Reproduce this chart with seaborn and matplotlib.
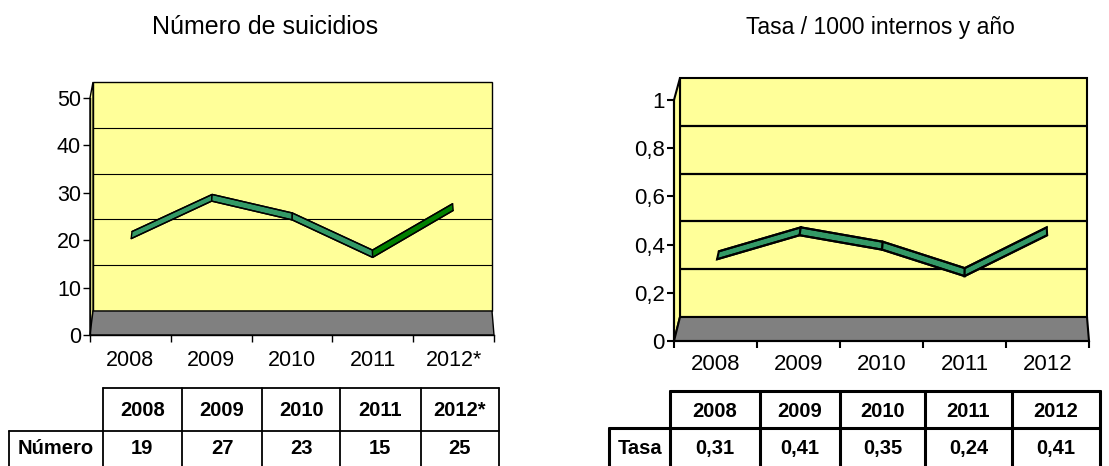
import matplotlib
matplotlib.use("Agg")
import matplotlib.pyplot as plt
from matplotlib.patches import Polygon
import seaborn as sns

# ---------------- data ----------------
years_left = ["2008", "2009", "2010", "2011", "2012*"]
numero = [19, 27, 23, 15, 25]
years_right = ["2008", "2009", "2010", "2011", "2012"]
tasa = [0.31, 0.41, 0.35, 0.24, 0.41]
tasa_labels = ["0,31", "0,41", "0,35", "0,24", "0,41"]
left_yticks = [0, 10, 20, 30, 40, 50]
left_yticklabels = ["0", "10", "20", "30", "40", "50"]
right_yticks = [0, 0.2, 0.4, 0.6, 0.8, 1.0]
right_yticklabels = ["0", "0,2", "0,4", "0,6", "0,8", "1"]
title_left = "Número de suicidios"
title_right = "Tasa / 1000 internos y año"
row_label_left = "Número"
row_label_right = "Tasa"

sns.set_theme(style="white")
plt.rcParams["font.family"] = ["Liberation Sans", "DejaVu Sans"]

W, H = 1109, 466
fig = plt.figure(figsize=(W / 100, H / 100), dpi=100)

YELLOW = "#FFFF99"
GRAY = "#808080"
GREEN = "#339966"
DKGREEN = "#008000"


def draw_chart(F, B, vmax, values, seg_colors, yticks, yticklabels, xlabels,
               lw_edge, lw_grid, depth=(0.30, 0.64), xpad=13, fs=15.5):
    fx0, fxs, fy0, fys = F
    bx0, bxs, by0, bys = B
    ax = fig.add_axes([fx0 / W, 1 - fy0 / H, 5 * fxs / W, vmax * fys / H])
    ax.set_xlim(0, 5)
    ax.set_ylim(0, vmax)
    ax.patch.set_visible(False)

    def proj(x, v, t):
        px = (1 - t) * (fx0 + fxs * x) + t * (bx0 + bxs * x)
        py = (1 - t) * (fy0 - fys * v) + t * (by0 - bys * v)
        return ((px - fx0) / fxs, (fy0 - py) / fys)

    kw = dict(edgecolor="black", linewidth=lw_edge, clip_on=False, joinstyle="miter")
    back = [proj(0, 0, 1), proj(5, 0, 1), proj(5, vmax, 1), proj(0, vmax, 1)]
    ax.add_patch(Polygon(back, closed=True, facecolor=YELLOW, zorder=1, **kw))
    side = [proj(0, 0, 0), proj(0, vmax, 0), proj(0, vmax, 1), proj(0, 0, 1)]
    ax.add_patch(Polygon(side, closed=True, facecolor=YELLOW, zorder=1, **kw))
    floor = [proj(0, 0, 0), proj(5, 0, 0), proj(5, 0, 1), proj(0, 0, 1)]
    ax.add_patch(Polygon(floor, closed=True, facecolor=GRAY, zorder=1.5, **kw))
    for v in yticks[1:-1]:
        p0, p1 = proj(0, v, 1), proj(5, v, 1)
        ax.plot([p0[0], p1[0]], [p0[1], p1[1]], color="black", lw=lw_grid,
                zorder=2, clip_on=False, solid_capstyle="butt")

    a, b = depth
    xs = [i + 0.5 for i in range(len(values))]
    for i in range(len(values) - 1):
        poly = [proj(xs[i], values[i], a), proj(xs[i + 1], values[i + 1], a),
                proj(xs[i + 1], values[i + 1], b), proj(xs[i], values[i], b)]
        ax.add_patch(Polygon(poly, closed=True, facecolor=seg_colors[i],
                             zorder=3 + i * 0.01, **kw))
    # ribbon edges through seaborn
    for t in (a, b):
        pts = [proj(x, v, t) for x, v in zip(xs, values)]
        sns.lineplot(x=[p[0] for p in pts], y=[p[1] for p in pts], ax=ax,
                     color="black", lw=lw_edge, sort=False, estimator=None,
                     zorder=4, legend=False)

    for s in ("top", "right"):
        ax.spines[s].set_visible(False)
    for s in ("left", "bottom"):
        ax.spines[s].set_color("black")
        ax.spines[s].set_linewidth(lw_edge)
        ax.spines[s].set_zorder(5)
    ax.spines["left"].set_bounds(0, vmax)
    ax.spines["bottom"].set_bounds(0, 5)

    ax.set_yticks(yticks)
    ax.set_yticklabels(yticklabels)
    ax.set_xticks(range(6))
    ax.set_xticklabels([])
    ax.set_xticks(xs, minor=True)
    ax.set_xticklabels(xlabels, minor=True)
    ax.tick_params(axis="y", which="major", left=True, direction="out", length=5,
                   width=lw_edge, color="black", pad=1.5, labelsize=fs,
                   labelcolor="black")
    ax.tick_params(axis="x", which="major", bottom=True, direction="out", length=5,
                   width=lw_edge, color="black")
    ax.tick_params(axis="x", which="minor", bottom=True, length=0, pad=xpad,
                   labelsize=fs, labelcolor="black")
    ax.set_xlabel("")
    ax.set_ylabel("")
    ax.grid(False)
    return ax


draw_chart(F=(90, 80.8, 335, 4.74), B=(93, 79.8, 311, 4.58), vmax=50,
           values=numero, seg_colors=[GREEN, GREEN, GREEN, DKGREEN],
           yticks=left_yticks, yticklabels=left_yticklabels, xlabels=years_left,
           lw_edge=1.0, lw_grid=0.8, xpad=11)
draw_chart(F=(674, 83.0, 341, 241), B=(680, 81.4, 317, 239), vmax=1.0,
           values=tasa, seg_colors=[GREEN] * 4,
           yticks=right_yticks, yticklabels=right_yticklabels, xlabels=years_right,
           lw_edge=1.5, lw_grid=1.6, xpad=9.5, fs=16)

# ---------------- overlay: titles and tables ----------------
ov = fig.add_axes([0, 0, 1, 1])
ov.set_xlim(0, W)
ov.set_ylim(H, 0)
ov.axis("off")
ov.patch.set_visible(False)

ov.text(265, 34, title_left, ha="center", va="baseline", fontsize=18, color="black")
ov.text(880, 34, title_right, ha="center", va="baseline", fontsize=16.5, color="black")


def draw_table(cols, label_left, top, mid, header, row_label, cells, lw,
               head_base, data_base, fs=14.5):
    bottom = H + 30
    ov.plot([cols[0], cols[-1]], [top, top], color="black", lw=lw)
    ov.plot([label_left, cols[-1]], [mid, mid], color="black", lw=lw)
    for c in cols:
        ov.plot([c, c], [top, bottom], color="black", lw=lw)
    ov.plot([label_left, label_left], [mid, bottom], color="black", lw=lw)
    for i, (h, v) in enumerate(zip(header, cells)):
        cx = (cols[i] + cols[i + 1]) / 2
        ov.text(cx, head_base, h, ha="center", va="baseline", fontsize=fs,
                fontweight="bold", color="black")
        ov.text(cx, data_base, v, ha="center", va="baseline", fontsize=fs,
                fontweight="bold", color="black")
    ov.text((label_left + cols[0]) / 2, data_base, row_label, ha="center",
            va="baseline", fontsize=fs, fontweight="bold", color="black")


draw_table(cols=[102.7, 181.7, 262.3, 340, 420.7, 499], label_left=9.3,
           top=388, mid=431, header=years_left, row_label=row_label_left,
           cells=[str(v) for v in numero], lw=1.3, head_base=416.5, data_base=453.5)
draw_table(cols=[670, 760, 840, 925, 1011.7, 1100], label_left=609.3,
           top=390.7, mid=428.3, header=years_right, row_label=row_label_right,
           cells=tasa_labels, lw=2.2, head_base=417, data_base=454)

fig.savefig("out.png", dpi=100)
